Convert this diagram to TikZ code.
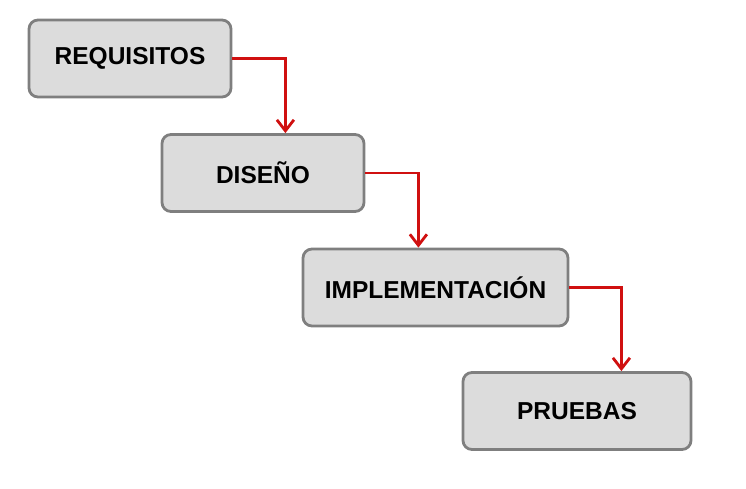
\documentclass[tikz,border=0pt]{standalone}
\usepackage{fontspec}
\setmainfont{Liberation Sans}
\usetikzlibrary{arrows.meta,calc,positioning}
\definecolor{boxfill}{HTML}{DCDCDC}
\definecolor{boxline}{HTML}{7F7F7F}
\definecolor{flowred}{HTML}{D01010}

\begin{document}
\begin{tikzpicture}
    	[x=1pt, y=-1pt,
    		block/.style={
    		  rectangle,
    		  draw=boxline,
    		  line width=2.8pt,
    		  fill=boxfill,
    		  align=center,
    		  rounded corners=9pt,
    		  inner sep=0pt,
    		  minimum height=77pt,
    		  font=\fontsize{24.5}{28}\selectfont\bfseries
    		},
    		flow/.style={
    		  draw=flowred,
    		  line width=2.8pt,
    		  -{Straight Barb[length=11pt,width=17pt,line width=2.8pt]}
    		}
    	]
    	\useasboundingbox (0,0) rectangle (746,489);
    	\node[block, minimum width=202pt] (req) at (130,58.5) {REQUISITOS};
    	\node[block, minimum width=202pt] (dis) at (263,173) {DISEÑO};
    	\node[block, minimum width=265pt] (imp) at (435.5,287.5) {IMPLEMENTACIÓN};
    	\node[block, minimum width=228pt] (pru) at (577,411) {PRUEBAS};

    	\draw[flow] (req.east) -- ++(53,0) coordinate (k1) -- (k1 |- dis.north);
    	\draw[flow] (dis.east) -- ++(53,0) coordinate (k2) -- (k2 |- imp.north);
    	\draw[flow] (imp.east) -- ++(52,0) coordinate (k3) -- (k3 |- pru.north);
    \end{tikzpicture}
\end{document}
